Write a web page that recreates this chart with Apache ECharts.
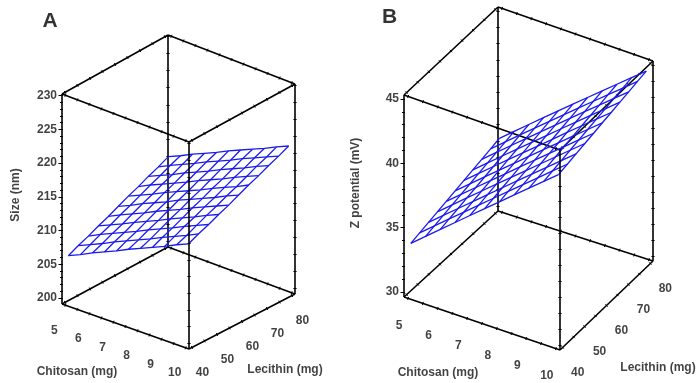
<!DOCTYPE html>
<html>
<head>
<meta charset="utf-8">
<script src="https://cdn.jsdelivr.net/npm/echarts@6.0.0/dist/echarts.min.js"></script>
<style>html,body{margin:0;padding:0;background:#fff}#main{width:697px;height:383px}</style>
</head>
<body>
<div id="main"></div>
<script>
// ---------------- DATA ----------------
const chitosanGrid = [5, 5.5, 6, 6.5, 7, 7.5, 8, 8.5, 9, 9.5, 10];
const lecithinGrid = [40, 44, 48, 52, 56, 60, 64, 68, 72, 76, 80];
// rows follow lecithinGrid, columns follow chitosanGrid
const sizeSurface = [
  [206.2, 207.0, 207.9, 208.7, 209.5, 210.4, 211.2, 212.0, 212.8, 213.7, 214.5],
  [206.9, 207.7, 208.5, 209.4, 210.2, 211.0, 211.8, 212.7, 213.5, 214.3, 215.2],
  [207.5, 208.4, 209.2, 210.0, 210.8, 211.7, 212.5, 213.3, 214.2, 215.0, 215.8],
  [208.2, 209.0, 209.8, 210.7, 211.5, 212.3, 213.2, 214.0, 214.8, 215.7, 216.5],
  [208.8, 209.7, 210.5, 211.3, 212.2, 213.0, 213.8, 214.7, 215.5, 216.3, 217.1],
  [209.5, 210.3, 211.2, 212.0, 212.8, 213.7, 214.5, 215.3, 216.1, 217.0, 217.8],
  [210.2, 211.0, 211.8, 212.7, 213.5, 214.3, 215.1, 216.0, 216.8, 217.6, 218.5],
  [210.8, 211.7, 212.5, 213.3, 214.1, 215.0, 215.8, 216.6, 217.5, 218.3, 219.1],
  [211.5, 212.3, 213.1, 214.0, 214.8, 215.6, 216.5, 217.3, 218.1, 219.0, 219.8],
  [212.1, 213.0, 213.8, 214.6, 215.5, 216.3, 217.1, 218.0, 218.8, 219.6, 220.4],
  [212.8, 213.6, 214.5, 215.3, 216.1, 217.0, 217.8, 218.6, 219.4, 220.3, 221.1]
];
const zetaSurface = [
  [33.70, 34.64, 35.57, 36.51, 37.45, 38.39, 39.32, 40.26, 41.20, 42.13, 43.07],
  [33.88, 34.81, 35.75, 36.68, 37.62, 38.55, 39.49, 40.42, 41.35, 42.29, 43.22],
  [34.06, 34.99, 35.92, 36.85, 37.79, 38.72, 39.65, 40.58, 41.51, 42.44, 43.38],
  [34.24, 35.17, 36.10, 37.03, 37.96, 38.88, 39.81, 40.74, 41.67, 42.60, 43.53],
  [34.42, 35.35, 36.27, 37.20, 38.12, 39.05, 39.98, 40.90, 41.83, 42.76, 43.68],
  [34.60, 35.52, 36.45, 37.37, 38.29, 39.22, 40.14, 41.06, 41.99, 42.91, 43.84],
  [34.78, 35.70, 36.62, 37.54, 38.46, 39.38, 40.30, 41.23, 42.15, 43.07, 43.99],
  [34.96, 35.88, 36.80, 37.71, 38.63, 39.55, 40.47, 41.39, 42.30, 43.22, 44.14],
  [35.14, 36.06, 36.97, 37.89, 38.80, 39.72, 40.63, 41.55, 42.46, 43.38, 44.29],
  [35.32, 36.23, 37.15, 38.06, 38.97, 39.88, 40.80, 41.71, 42.62, 43.53, 44.45],
  [35.50, 36.41, 37.32, 38.23, 39.14, 40.05, 40.96, 41.87, 42.78, 43.69, 44.60]
];
const chitosanTicks = [5, 6, 7, 8, 9, 10];
const lecithinTicks = [40, 50, 60, 70, 80];
const sizeTicks = [200, 205, 210, 215, 220, 225, 230];
const zetaTicks = [30, 35, 40, 45];
const chitosanMinor = [5, 5.5, 6, 6.5, 7, 7.5, 8, 8.5, 9, 9.5, 10];
const lecithinMinor = [40, 45, 50, 55, 60, 65, 70, 75, 80];
const sizeMinor = [200,201,202,203,204,205,206,207,208,209,210,211,212,213,214,215,216,217,218,219,220,221,222,223,224,225,226,227,228,229,230];
const zetaMinor = [30,31,32,33,34,35,36,37,38,39,40,41,42,43,44,45];
const sizeEdgeMinor = [200, 202.5, 205, 207.5, 210, 212.5, 215, 217.5, 220, 222.5, 225, 227.5, 230];
const zetaEdgeMinor = [30, 31.25, 32.5, 33.75, 35, 36.25, 37.5, 38.75, 40, 41.25, 42.5, 43.75, 45];
const panelTitles = ['A', 'B'];
const chitosanName = 'Chitosan (mg)';
const lecithinName = 'Lecithin (mg)';
const zNames = ['Size (nm)', 'Z potential (mV)'];

// ---------------- LAYOUT (projection of each 3D box onto the page) ----------------
const layout = [
  { c: [4.86, 10.14], l: [38.8, 81.2], z: [199.1, 230.25],
    b00: [62, 304], b10: [189, 349], b11: [295, 294], b01: [168, 247],
    t00: [62, 94],  t10: [189, 142], t11: [295, 84],  t01: [168, 35],
    cLab: [-11, 25], lLab: [10.5, 25.5], zLab: -5,
    title: [50, 21], cName: [77, 372], lName: [285, 370], zName: [16, 195] },
  { c: [4.86, 10.14], l: [38.8, 81.2], z: [29.61, 45.31],
    b00: [404, 297], b10: [560, 350], b11: [653, 261], b01: [498, 211],
    t00: [404, 95],  t10: [560, 150], t11: [653, 61],  t01: [498, 7],
    cLab: [-9, 27.5], lLab: [15, 25.5], zLab: -5,
    title: [389.5, 17.5], cName: [438, 373], lName: [658, 368], zName: [356, 183] }
];
const panelData = [
  { surface: sizeSurface, zTicks: sizeTicks, zMinor: sizeMinor, zEdge: sizeEdgeMinor },
  { surface: zetaSurface, zTicks: zetaTicks, zMinor: zetaMinor, zEdge: zetaEdgeMinor }
];

const FONT = "'Liberation Sans', Arial, sans-serif";
const TEXT = '#111111';
const MESH = '#1a1aee';

function projUVW(p, u, v, w) {
  const bil = (a00, a10, a11, a01, k) =>
    (1 - u) * (1 - v) * a00[k] + u * (1 - v) * a10[k] + u * v * a11[k] + (1 - u) * v * a01[k];
  const bx = bil(p.b00, p.b10, p.b11, p.b01, 0), by = bil(p.b00, p.b10, p.b11, p.b01, 1);
  const tx = bil(p.t00, p.t10, p.t11, p.t01, 0), ty = bil(p.t00, p.t10, p.t11, p.t01, 1);
  return [bx * (1 - w) + tx * w, by * (1 - w) + ty * w];
}
function proj(p, c, l, z) {
  return projUVW(p, (c - p.c[0]) / (p.c[1] - p.c[0]), (l - p.l[0]) / (p.l[1] - p.l[0]), (z - p.z[0]) / (p.z[1] - p.z[0]));
}

const series = [];
layout.forEach((p, k) => {
  const d = panelData[k];
  const c0 = p.c[0], c1 = p.c[1], l0 = p.l[0], l1 = p.l[1], z0 = p.z[0], z1 = p.z[1];
  const edges = [];
  const frontEdges = [];
  [z0, z1].forEach(zz => {
    edges.push([proj(p, c0, l0, zz), proj(p, c1, l0, zz)]);
    edges.push([proj(p, c1, l0, zz), proj(p, c1, l1, zz)]);
    edges.push([proj(p, c1, l1, zz), proj(p, c0, l1, zz)]);
    edges.push([proj(p, c0, l1, zz), proj(p, c0, l0, zz)]);
  });
  [[c0, l0], [c1, l1], [c0, l1]].forEach(([cc, ll]) => edges.push([proj(p, cc, ll, z0), proj(p, cc, ll, z1)]));
  frontEdges.push([proj(p, c1, l0, z0), proj(p, c1, l0, z1)]);

  const ticks = [];
  const addTick = (a, b, pt, len) => {
    const dx = b[0] - a[0], dy = b[1] - a[1], n = Math.hypot(dx, dy);
    const nx = -dy / n * len, ny = dx / n * len;
    ticks.push([[pt[0] - nx, pt[1] - ny], [pt[0] + nx, pt[1] + ny]]);
  };
  const edgeTicks = (from, to, vals, f) => vals.forEach(val => addTick(from, to, f(val), 1.6));
  [z0, z1].forEach(zz => {
    edgeTicks(proj(p, c0, l0, zz), proj(p, c1, l0, zz), chitosanMinor, v => proj(p, v, l0, zz));
    edgeTicks(proj(p, c0, l1, zz), proj(p, c1, l1, zz), chitosanMinor, v => proj(p, v, l1, zz));
    edgeTicks(proj(p, c1, l0, zz), proj(p, c1, l1, zz), lecithinMinor, v => proj(p, c1, v, zz));
    edgeTicks(proj(p, c0, l0, zz), proj(p, c0, l1, zz), lecithinMinor, v => proj(p, c0, v, zz));
  });
  [[c1, l0], [c1, l1], [c0, l1]].forEach(([cc, ll]) =>
    edgeTicks(proj(p, cc, ll, z0), proj(p, cc, ll, z1), d.zEdge, v => proj(p, cc, ll, v)));
  d.zMinor.forEach(v => { const q = proj(p, c0, l0, v); ticks.push([[q[0] - 2, q[1]], [q[0] + 1, q[1]]]); });
  d.zTicks.forEach(v => { const q = proj(p, c0, l0, v); ticks.push([[q[0] - 3.5, q[1]], [q[0], q[1]]]); });

  series.push({ type: 'lines', coordinateSystem: 'cartesian2d', polyline: false, silent: true, z: 1,
    lineStyle: { color: '#000', width: 1.6, opacity: 1 },
    data: edges.map(e => ({ coords: e })) });
  series.push({ type: 'lines', coordinateSystem: 'cartesian2d', polyline: false, silent: true, z: 1,
    lineStyle: { color: '#000', width: 1, opacity: 1 },
    data: ticks.map(e => ({ coords: e })) });

  const mesh = [];
  lecithinGrid.forEach((lv, j) => mesh.push(chitosanGrid.map((cv, i) => proj(p, cv, lv, d.surface[j][i]))));
  chitosanGrid.forEach((cv, i) => mesh.push(lecithinGrid.map((lv, j) => proj(p, cv, lv, d.surface[j][i]))));
  series.push({ type: 'lines', coordinateSystem: 'cartesian2d', polyline: true, silent: true, z: 2,
    lineStyle: { color: MESH, width: 1.3, opacity: 1 },
    data: mesh.map(m => ({ coords: m })) });
  series.push({ type: 'lines', coordinateSystem: 'cartesian2d', polyline: false, silent: true, z: 3,
    lineStyle: { color: '#000', width: 1.6, opacity: 1 },
    data: frontEdges.map(e => ({ coords: e })) });

  const labels = [];
  d.zTicks.forEach(v => { const q = proj(p, c0, l0, v); labels.push({ value: [q[0] + p.zLab, q[1]], name: String(v), label: { align: 'right' } }); });
  chitosanTicks.forEach(v => { const q = proj(p, v, l0, z0); labels.push({ value: [q[0] + p.cLab[0], q[1] + p.cLab[1]], name: String(v) }); });
  lecithinTicks.forEach(v => { const q = proj(p, c1, v, z0); labels.push({ value: [q[0] + p.lLab[0], q[1] + p.lLab[1]], name: String(v) }); });
  labels.push({ value: p.cName, name: chitosanName });
  labels.push({ value: p.lName, name: lecithinName });
  labels.push({ value: p.zName, name: zNames[k], label: { rotate: 90 } });
  labels.push({ value: p.title, name: panelTitles[k], label: { fontSize: 21, color: '#000' } });
  series.push({ type: 'scatter', coordinateSystem: 'cartesian2d', silent: true, z: 4,
    symbolSize: 1, itemStyle: { color: 'rgba(0,0,0,0)' },
    label: { show: true, position: 'inside', formatter: '{b}', color: TEXT, fontSize: 12,
      fontWeight: 'bold', fontFamily: FONT, align: 'center', verticalAlign: 'middle' },
    data: labels });
});

const chart = echarts.init(document.getElementById('main'), null, { renderer: 'canvas' });
chart.setOption({
  animation: false,
  backgroundColor: '#ffffff',
  grid: { left: 0, right: 0, top: 0, bottom: 0 },
  xAxis: { type: 'value', min: 0, max: 697, show: false },
  yAxis: { type: 'value', min: 0, max: 383, inverse: true, show: false },
  series: series
});
</script>
</body>
</html>
